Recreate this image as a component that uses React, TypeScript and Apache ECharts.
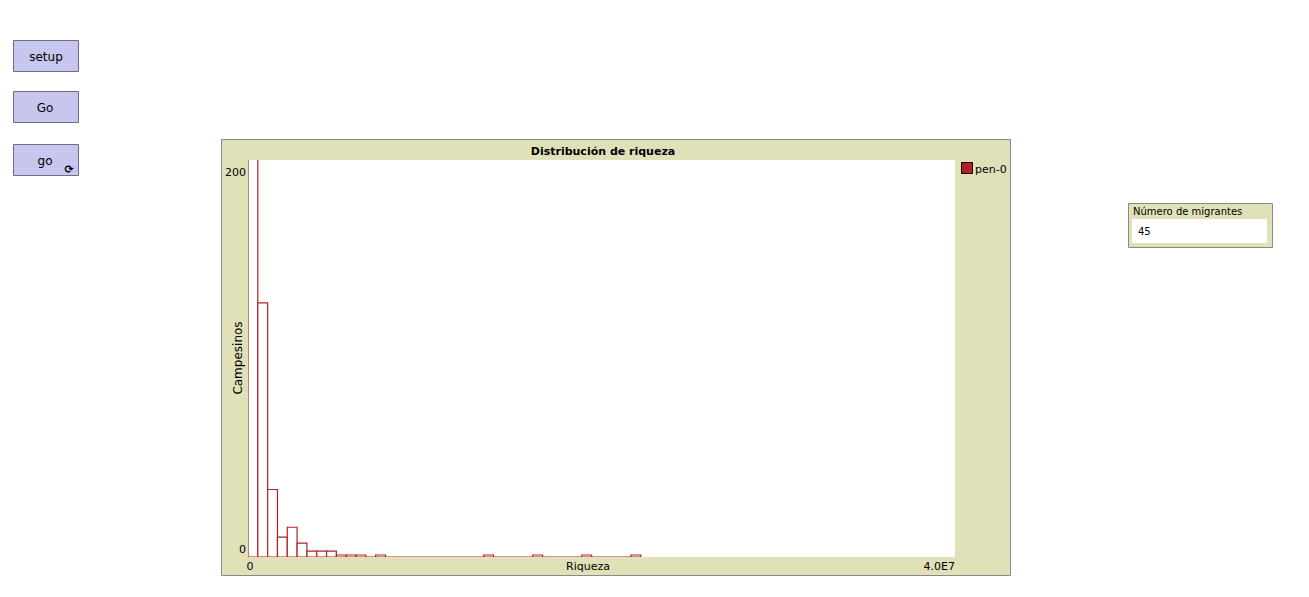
import { useEffect, useRef } from 'react';
import * as echarts from 'echarts';

// histogram bins (72 bins across 0..4.0E7), counts per bin
const binCount = 72;
const xMax = 40000000;
const counts = [260, 128, 34, 10, 15, 7, 3, 3, 3, 1, 1, 1, 0, 1, 0, 0, 0, 0, 0, 0,
  0, 0, 0, 0, 1, 0, 0, 0, 0, 1, 0, 0, 0, 0, 1, 0, 0, 0, 0, 1];
const yTicks = ['0', '200'];
const xTicks = ['0', '4.0E7'];
const buttons = ['setup', 'Go', 'go'];

const FONT = 'DejaVu Sans';
const BG = '#e0e0b9';
const PEN = '#b22222';

export default function App() {
  const ref = useRef<HTMLDivElement>(null);

  useEffect(() => {
    if (!ref.current) return;
    const chart = echarts.init(ref.current, null, { renderer: 'svg' });
    const w = xMax / binCount;
    const data = counts.map((c, i) => [i * w, (i + 1) * w, c]);

    const btnY = [40, 91, 144];
    const btnGraphics: any[] = buttons.map((b, i) => ({
      type: 'group',
      children: [
        { type: 'rect', shape: { x: 13.5, y: btnY[i] + 0.5, width: 65, height: 31 }, style: { fill: '#c6c6ee', stroke: '#6e6e80', lineWidth: 1 } },
        { type: 'text', x: i === 0 ? 46 : 45, y: btnY[i] + 17, style: { text: b, font: `12px "${FONT}"`, fill: '#000', align: 'center', verticalAlign: 'middle' } },
      ],
    }));
    btnGraphics.push({
      type: 'text', x: 69, y: 169, style: { text: '⟳', font: `bold 11px "${FONT}"`, fill: '#000', align: 'center', verticalAlign: 'middle' },
    });

    chart.setOption({
      animation: false,
      grid: { left: 248, top: 160, width: 707, height: 397, show: false },
      xAxis: { type: 'value', min: 0, max: xMax, show: false },
      yAxis: { type: 'value', min: 0, max: 200, show: false },
      graphic: [
        ...btnGraphics,
        // plot widget
        { type: 'rect', z: -10, shape: { x: 221.5, y: 139.5, width: 789, height: 436 }, style: { fill: BG, stroke: '#8a8a8a', lineWidth: 1 } },
        { type: 'rect', z: -9, shape: { x: 248, y: 160, width: 707, height: 397 }, style: { fill: '#fff' } },
        { type: 'text', x: 603, y: 151, style: { text: 'Distribución de riqueza', font: `bold 11px "${FONT}"`, fill: '#000', align: 'center', verticalAlign: 'middle' } },
        { type: 'text', x: 246, y: 172, style: { text: yTicks[1], font: `11px "${FONT}"`, fill: '#000', align: 'right', verticalAlign: 'middle' } },
        { type: 'text', x: 246, y: 549, style: { text: yTicks[0], font: `11px "${FONT}"`, fill: '#000', align: 'right', verticalAlign: 'middle' } },
        { type: 'text', x: 250, y: 566, style: { text: xTicks[0], font: `11px "${FONT}"`, fill: '#000', align: 'center', verticalAlign: 'middle' } },
        { type: 'text', x: 955, y: 566, style: { text: xTicks[1], font: `11px "${FONT}"`, fill: '#000', align: 'right', verticalAlign: 'middle' } },
        { type: 'text', x: 588, y: 566, style: { text: 'Riqueza', font: `11px "${FONT}"`, fill: '#000', align: 'center', verticalAlign: 'middle' } },
        { type: 'text', x: 238, y: 358, rotation: Math.PI / 2, style: { text: 'Campesinos', font: `12px "${FONT}"`, fill: '#000', align: 'center', verticalAlign: 'middle' } },
        { type: 'rect', shape: { x: 961.5, y: 162.5, width: 11, height: 11 }, style: { fill: PEN, stroke: '#000', lineWidth: 1 } },
        { type: 'text', x: 975, y: 169, style: { text: 'pen-0', font: `11px "${FONT}"`, fill: '#000', verticalAlign: 'middle' } },
        // monitor
        { type: 'rect', shape: { x: 1128.5, y: 203.5, width: 144, height: 44 }, style: { fill: BG, stroke: '#8a8a8a', lineWidth: 1 } },
        { type: 'text', x: 1133, y: 211, style: { text: 'Número de migrantes', font: `10px "${FONT}"`, fill: '#000', verticalAlign: 'middle' } },
        { type: 'rect', shape: { x: 1132, y: 219, width: 135, height: 24 }, style: { fill: '#fff' } },
        { type: 'text', x: 1138, y: 231, style: { text: '45', font: `10px "${FONT}"`, fill: '#000', verticalAlign: 'middle' } },
      ],
      series: [{
        type: 'custom',
        clip: true,
        data,
        renderItem: (params: any, api: any) => {
          const p0 = api.coord([api.value(0), 0]);
          const p1 = api.coord([api.value(1), api.value(2)]);
          return {
            type: 'rect',
            shape: { x: p0[0], y: p1[1], width: p1[0] - p0[0], height: p0[1] - p1[1] },
            style: { fill: '#fff', stroke: PEN, lineWidth: 1.2 },
          };
        },
      }],
    });
    return () => chart.dispose();
  }, []);

  return <div ref={ref} style={{ position: 'absolute', left: 0, top: 0, width: 1309, height: 597 }} />;
}
